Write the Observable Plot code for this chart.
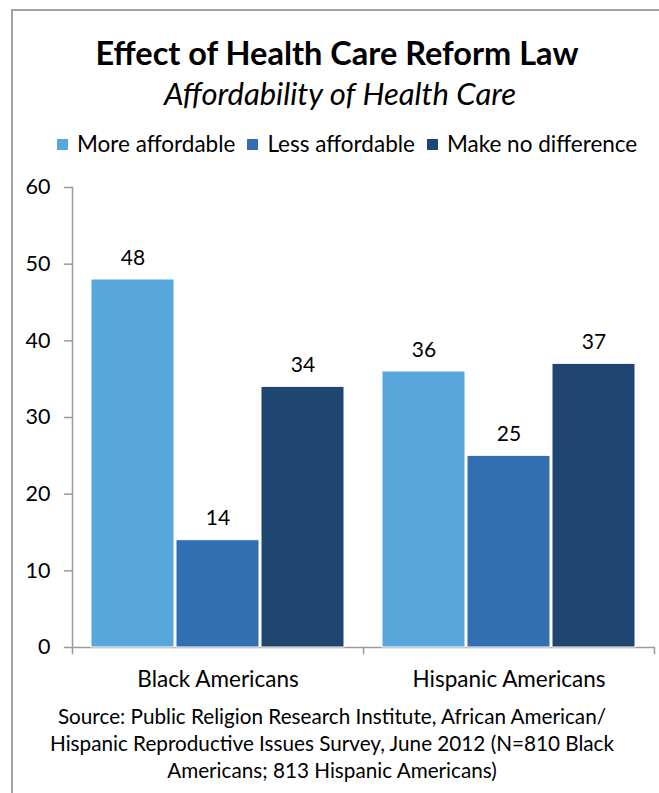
<!DOCTYPE html>
<html>
<head>
<meta charset="utf-8">
<script src="https://cdn.jsdelivr.net/npm/d3@7"></script>
<script src="https://cdn.jsdelivr.net/npm/@observablehq/plot@0.6"></script>
<style>
  html, body { margin: 0; padding: 0; background: #fff; }
  body { width: 659px; height: 793px; position: relative; overflow: hidden; font-family: Lato, "Open Sans", sans-serif; color: #000; }
  #border { position: absolute; left: 11px; top: 9px; width: 700px; height: 800px; border-top: 2px solid #a3a3a3; border-left: 2px solid #a3a3a3; }
  .txt { position: absolute; white-space: nowrap; line-height: 1; }
  #title { left: 0; width: 674px; text-align: center; top: 37px; font-size: 32.5px; font-weight: bold; }
  #subtitle { left: 0; width: 680px; text-align: center; top: 78px; font-size: 31px; font-style: italic; }
  #legend { left: 57px; top: 133px; font-size: 22.5px; display: flex; align-items: center; }
  .item { display: flex; align-items: center; margin-right: 12px; }
  .sw { width: 11px; height: 11px; margin-right: 9px; }
  #chart { position: absolute; left: 0; top: 150px; }
  #source { left: 0; width: 664px; text-align: center; top: 703px; font-size: 20.7px; line-height: 27px; }
</style>
</head>
<body>
<div id="border"></div>
<div id="title" class="txt"></div>
<div id="subtitle" class="txt"></div>
<div id="legend" class="txt"></div>
<div id="chart"></div>
<div id="source" class="txt"></div>
<script>
const titleText = "Effect of Health Care Reform Law";
const subtitleText = "Affordability of Health Care";
const categories = ["Black Americans", "Hispanic Americans"];
const series = ["More affordable", "Less affordable", "Make no difference"];
const moreAffordable = [48, 36];
const lessAffordable = [14, 25];
const noDifference = [34, 37];
const colors = ["#57a6dc", "#316fb2", "#1f4670"];
const yTicks = [0, 10, 20, 30, 40, 50, 60];
const sourceLines = [
  "Source: Public Religion Research Institute, African American/",
  "Hispanic Reproductive Issues Survey, June 2012 (N=810 Black",
  "Americans; 813 Hispanic Americans)"
];

const valuesBySeries = [moreAffordable, lessAffordable, noDifference];
const data = categories.flatMap((group, i) =>
  series.map((s, j) => ({group, series: s, value: valuesBySeries[j][i]}))
);

document.getElementById("title").textContent = titleText;
document.getElementById("subtitle").textContent = subtitleText;
const legend = document.getElementById("legend");
series.forEach((s, j) => {
  const item = document.createElement("div");
  item.className = "item";
  const sw = document.createElement("div");
  sw.className = "sw";
  sw.style.background = colors[j];
  const lab = document.createElement("span");
  lab.textContent = s;
  item.appendChild(sw);
  item.appendChild(lab);
  legend.appendChild(item);
});
const src = document.getElementById("source");
sourceLines.forEach(l => { const d = document.createElement("div"); d.textContent = l; src.appendChild(d); });

const axisGray = "#9a9a9a";
const chart = Plot.plot({
  width: 659,
  height: 560,
  marginTop: 37,
  marginBottom: 63,
  marginLeft: 71,
  marginRight: 5,
  style: {fontFamily: "Lato, 'Open Sans', sans-serif", fontSize: "21px", color: "#000", background: "transparent", overflow: "visible"},
  fx: {domain: categories, padding: 0, label: null},
  x: {domain: series, paddingInner: 0.023, paddingOuter: 0.206, axis: null},
  y: {domain: [0, 60], axis: null},
  color: {domain: series, range: colors},
  marks: [
    Plot.frame({anchor: "left", facetAnchor: "left", stroke: axisGray, strokeWidth: 1.5}),
    Plot.ruleY([0], {stroke: axisGray, strokeWidth: 1.5}),
    Plot.frame({anchor: "left", insetTop: 460, insetBottom: -6, stroke: axisGray, strokeWidth: 1.5}),
    Plot.frame({anchor: "right", facetAnchor: "right", insetTop: 460, insetBottom: -6, stroke: axisGray, strokeWidth: 1.5}),
    Plot.barY(data, {fx: "group", x: "series", y: "value", fill: "series", stroke: "white", strokeWidth: 1}),
    Plot.text(data, {fx: "group", x: "series", y: "value", text: d => String(d.value), lineAnchor: "bottom", dy: -15, fontSize: 21, fill: "#000"}),
    Plot.axisY({ticks: yTicks, tickSize: 8, tickPadding: 14, stroke: axisGray, strokeWidth: 1.5, label: null, fontSize: 21.5, fill: "#000"}),
    Plot.axisFx({anchor: "bottom", tickSize: 0, tickPadding: 24, label: null, fontSize: 22.5, fill: "#000"})
  ]
});
document.getElementById("chart").appendChild(chart);
</script>
</body>
</html>
